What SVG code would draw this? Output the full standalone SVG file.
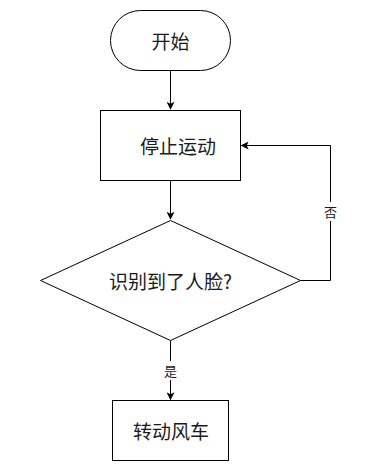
<svg xmlns="http://www.w3.org/2000/svg" width="370" height="471" viewBox="0 0 370 471">
<defs>
<marker id="arr" viewBox="0 0 10 10" refX="9" refY="5" markerWidth="8" markerHeight="8" markerUnits="userSpaceOnUse" orient="auto">
<path d="M0,0 L10,5 L0,10 L2.5,5 z" fill="#000"/>
</marker>
</defs>
<style>
.shape{fill:#fff;stroke:#000;stroke-width:1}
.t{font-family:"Noto Sans CJK SC","Noto Sans",sans-serif;font-size:19px;fill:#1a1a1a;text-anchor:middle;dominant-baseline:central}
.lbl{font-family:"Noto Sans CJK SC","Noto Sans",sans-serif;font-size:13px;fill:#1a1a1a;text-anchor:middle;dominant-baseline:central}
.c{fill:none;stroke:#000;stroke-width:1}
</style>
<rect width="370" height="471" fill="#fff"/>
<g id="connectors">
<path class="c" d="M170.5,70.5 V109" marker-end="url(#arr)"/>
<path class="c" d="M170.5,180.5 V219" marker-end="url(#arr)"/>
<path class="c" d="M300.5,280.5 H330.5 V145.5 H241.5" marker-end="url(#arr)"/>
<path class="c" d="M170.5,340.5 V399.5" marker-end="url(#arr)"/>
<rect x="322" y="202" width="17" height="19" fill="#fff"/>
<text class="lbl" x="330.5" y="211.5">否</text>
<rect x="162" y="361" width="17" height="19" fill="#fff"/>
<text class="lbl" x="170.5" y="370">是</text>
</g>
<g id="start">
<rect class="shape" x="110.5" y="10.5" width="120" height="60" rx="30" ry="30"/>
<text class="t" x="170.5" y="40.5">开始</text>
</g>
<g id="stop">
<rect class="shape" x="100.5" y="110.5" width="140" height="70"/>
<text class="t" x="178" y="145.5">停止运动</text>
</g>
<g id="decision">
<path class="shape" d="M170.5,220.5 L300.5,280.5 L170.5,340.5 L40.5,280.5 Z"/>
<text class="t" x="170.5" y="280.5">识别到了人脸?</text>
</g>
<g id="turn">
<rect class="shape" x="112.5" y="400.5" width="116" height="60"/>
<text class="t" x="171" y="430.5">转动风车</text>
</g>
</svg>
